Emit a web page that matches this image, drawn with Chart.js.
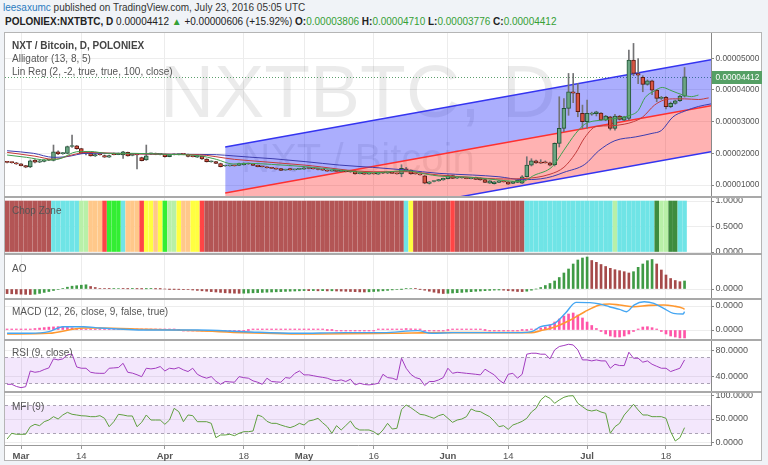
<!DOCTYPE html>
<html>
<head>
<meta charset="utf-8">
<title>NXTBTC daily</title>
<script src="https://cdn.jsdelivr.net/npm/chart.js@4.4.1/dist/chart.umd.min.js"></script>
<style>
  html, body { margin: 0; padding: 0; background: #f0f3f7; }
  body { width: 768px; height: 465px; position: relative; overflow: hidden; font-family: "Liberation Sans", Arial, sans-serif; }
  .hdr { position: absolute; font-size: 10px; line-height: 12px; white-space: nowrap; }
  #hdr1 { left: 3px; top: 2px; color: #333; }
  #hdr2 { left: 5px; top: 16px; color: #222; }
  .user { color: #2b7bbf; }
  .g { color: #35a035; }
  #frame { position: absolute; left: 4px; top: 32px; width: 758px; height: 429px; background: #fff; border: 1px solid #b5b5b5; box-sizing: border-box; }
  canvas { position: absolute; left: 5px; z-index: 1; }
  .sep { position: absolute; left: 4px; width: 758px; height: 2px; background: #a9a9a9; z-index: 2; }
  .lbl { position: absolute; left: 12px; font-size: 10px; line-height: 12px; color: #555; white-space: nowrap; z-index: 2; }
</style>
</head>
<body>
<div class="hdr" id="hdr1"><span class="user">leesaxumc</span> published on TradingView.com, July 23, 2016 05:05 UTC</div>
<div class="hdr" id="hdr2"><b>POLONIEX:NXTBTC, D</b> 0.00004412 <span class="g">&#9650;</span> +0.00000606 (+15.92%) <b>O:</b><span class="g">0.00003806</span> <b>H:</b><span class="g">0.00004710</span> <b>L:</b><span class="g">0.00003776</span> <b>C:</b><span class="g">0.00004412</span></div>
<div id="frame"></div>

<canvas id="cMain" width="757" height="175" style="top:27px"></canvas>
<canvas id="cChop" width="757" height="67" style="top:192px"></canvas>
<canvas id="cAo" width="757" height="55" style="top:249px"></canvas>
<canvas id="cMacd" width="757" height="51" style="top:294px"></canvas>
<canvas id="cRsi" width="757" height="62" style="top:335px"></canvas>
<canvas id="cMfi" width="757" height="74" style="top:387px"></canvas>

<div class="sep" style="top:196px"></div>
<div class="sep" style="top:253px"></div>
<div class="sep" style="top:298px"></div>
<div class="sep" style="top:339px"></div>
<div class="sep" style="top:391px"></div>

<div class="lbl" style="top:40px;color:#444;font-weight:bold">NXT / Bitcoin, D, POLONIEX</div>
<div class="lbl" style="top:53px">Alligator (13, 8, 5)</div>
<div class="lbl" style="top:66px">Lin Reg (2, -2, true, true, 100, close)</div>
<div class="lbl" style="top:205px">Chop Zone</div>
<div class="lbl" style="top:263px">AO</div>
<div class="lbl" style="top:306px">MACD (12, 26, close, 9, false, true)</div>
<div class="lbl" style="top:347px">RSI (9, close)</div>
<div class="lbl" style="top:401px">MFI (9)</div>

<script>
const FONT = '"Liberation Sans", Arial, sans-serif';
const AXIS_W = 51;

// day 0 = Mar 1 2016, first candle Feb 27 (day -3), last candle day 143
const FIRST_DAY = -3;
const X_MIN = -3.45, X_MAX = 148.7;
const tickDays = [0, 13, 31, 48, 61, 76, 92, 105, 122, 139];
const tickLabels = ['Mar', '14', 'Apr', '18', 'May', '16', 'Jun', '14', 'Jul', '18'];

// prices in satoshi (1e-8 BTC)
const priceTicks = [1000, 2000, 3000, 4000, 5000];
const opens = [
  1725, 1715, 1700, 1665, 1610, 1568, 1785, 1720, 1745, 1790,
  1775, 2050, 1990, 2000, 2215, 2240, 2150, 2000, 2000, 1920,
  1960, 1930, 1880, 1990, 1960, 1950, 2030, 1935, 1960, 1862,
  1790, 1985, 2000, 1968, 1968, 1895, 1955, 1960, 1970, 1965,
  1900, 1880, 1910, 1820, 1735, 1740, 1680, 1600, 1605, 1610,
  1620, 1640, 1680, 1660, 1625, 1580, 1575, 1545, 1525, 1520,
  1470, 1515, 1480, 1495, 1500, 1540, 1520, 1505, 1490, 1470,
  1440, 1450, 1430, 1430, 1420, 1440, 1360, 1390, 1345, 1360,
  1340, 1385, 1370, 1372, 1368, 1350, 1510, 1470, 1355, 1330,
  1290, 1050, 1110, 1130, 1160, 1200, 1300, 1215, 1220, 1225,
  1200, 1240, 1220, 1170, 1060, 1040, 1080, 1105, 1100, 1050,
  1085, 1060, 1262, 1630, 1760, 1720, 1730, 1700, 1640, 2315,
  2787, 3418, 3944, 3900, 3260, 2997, 3240, 3250, 3270, 3050,
  3150, 2790, 3180, 3050, 3100, 4944, 4520, 4397, 4176, 4290,
  3997, 3734, 3766, 3470, 3576, 3660, 3806
];
const highs = [
  1745, 1730, 1715, 1680, 1620, 1790, 1800, 1775, 1800, 1810,
  2262, 2080, 2030, 2230, 2577, 2250, 2160, 2060, 2010, 1980,
  1985, 1950, 1945, 2010, 2010, 2060, 2040, 1975, 1980, 1880,
  2262, 2010, 2010, 1990, 1980, 1960, 1985, 1985, 1980, 1975,
  1915, 1935, 1915, 1830, 1760, 1750, 1690, 1625, 1620, 1625,
  1690, 1700, 1695, 1670, 1635, 1595, 1585, 1560, 1535, 1530,
  1500, 1525, 1500, 1530, 1560, 1550, 1530, 1515, 1495, 1480,
  1465, 1460, 1445, 1440, 1430, 1450, 1395, 1400, 1370, 1370,
  1400, 1395, 1385, 1380, 1375, 1640, 1560, 1480, 1365, 1340,
  1300, 1110, 1130, 1180, 1220, 1320, 1310, 1230, 1245, 1235,
  1215, 1250, 1230, 1180, 1140, 1110, 1140, 1120, 1110, 1120,
  1165, 1300, 1893, 1830, 1790, 1800, 1760, 1720, 2330, 3786,
  3730, 4522, 4522, 4206, 3523, 3680, 3300, 3330, 3290, 3200,
  3170, 3230, 3200, 3170, 5259, 5470, 4990, 4450, 4320, 4310,
  4010, 3800, 3800, 3620, 3680, 3830, 4710
];
const lows = [
  1700, 1690, 1650, 1600, 1545, 1550, 1700, 1705, 1730, 1765,
  1760, 1960, 1970, 1990, 2190, 2130, 1990, 1950, 1910, 1900,
  1940, 1870, 1870, 1950, 1955, 1840, 1910, 1920, 1505, 1760,
  1780, 1960, 1955, 1950, 1880, 1890, 1950, 1950, 1955, 1890,
  1885, 1870, 1810, 1725, 1720, 1670, 1570, 1590, 1595, 1595,
  1610, 1625, 1650, 1610, 1570, 1565, 1535, 1515, 1495, 1450,
  1465, 1465, 1475, 1490, 1495, 1510, 1500, 1480, 1460, 1430,
  1435, 1420, 1420, 1410, 1400, 1340, 1350, 1330, 1340, 1340,
  1335, 1360, 1360, 1360, 1340, 1260, 1430, 1340, 1340, 1310,
  1040, 1030, 1100, 1120, 1150, 1190, 1200, 1205, 1215, 1195,
  1190, 1170, 1150, 1070, 1050, 1030, 1070, 1090, 1020, 1040,
  1075, 1050, 1250, 1600, 1680, 1680, 1690, 1600, 1600, 2200,
  2680, 3200, 3600, 3155, 2787, 2787, 3200, 3180, 3040, 3030,
  2735, 2730, 3050, 3030, 3050, 4450, 4200, 3944, 4150, 3850,
  3628, 3700, 3400, 3440, 3550, 3640, 3776
];
const closes = [
  1715, 1705, 1662, 1610, 1560, 1767, 1720, 1760, 1790, 1785,
  2050, 1980, 2000, 2210, 2230, 2150, 2000, 2005, 1920, 1960,
  1955, 1880, 1930, 1960, 2000, 2050, 1920, 1960, 1950, 1767,
  1925, 2000, 1968, 1970, 1893, 1950, 1968, 1975, 1968, 1900,
  1898, 1920, 1820, 1735, 1745, 1680, 1577, 1609, 1610, 1605,
  1680, 1690, 1662, 1620, 1580, 1577, 1545, 1524, 1503, 1460,
  1490, 1475, 1490, 1520, 1545, 1520, 1510, 1490, 1470, 1440,
  1450, 1430, 1432, 1420, 1410, 1350, 1380, 1340, 1360, 1350,
  1390, 1370, 1372, 1368, 1350, 1530, 1440, 1350, 1350, 1320,
  1060, 1100, 1120, 1170, 1210, 1300, 1210, 1220, 1230, 1200,
  1205, 1180, 1160, 1080, 1130, 1100, 1130, 1100, 1030, 1110,
  1157, 1262, 1630, 1760, 1700, 1690, 1700, 1630, 2314, 2787,
  3418, 3944, 3900, 3313, 2997, 3260, 3270, 3313, 3050, 3180,
  2790, 3180, 3070, 3150, 4944, 4520, 4470, 4176, 4290, 3997,
  3734, 3760, 3470, 3576, 3660, 3806, 4412
];

// Alligator lines (read at sparse points, x = day)
const jawDays = [-3, 2.7, 7, 9.8, 14.1, 20.6, 27.7, 34.9, 42.1, 45.7, 49.3, 54.3, 61.4, 68.6, 75.8, 83, 90.1, 97.3, 103, 108, 112, 114.5, 117, 121.5, 124.5, 128, 132.5, 136, 138, 140.5, 143, 146, 148.7];
const jawVals = [2082, 2000, 1873, 1894, 2000, 2000, 1978, 1968, 1957, 1920, 1880, 1830, 1736, 1630, 1557, 1472, 1367, 1315, 1260, 1170, 1195, 1270, 1400, 1650, 2080, 2400, 2520, 2630, 2720, 3150, 3330, 3480, 3560];
const teethDays = [-3, 3, 7, 11, 14, 17, 24, 38, 46, 50, 61, 76, 83, 90, 97, 104, 108, 114, 117, 119.5, 121.5, 124, 127, 130, 132, 134, 136.5, 138.5, 141, 143, 146, 148.2];
const teethVals = [2030, 1910, 1810, 1950, 2030, 2020, 1980, 1957, 1810, 1760, 1630, 1420, 1420, 1315, 1241, 1190, 1200, 1340, 1560, 2000, 2500, 2850, 2870, 2920, 3000, 3150, 3520, 3680, 3720, 3720, 3700, 3750];
const lipsDays = [-3, 1.2, 5.5, 8.4, 12, 14.9, 18.6, 24.2, 31.3, 38.4, 42.1, 45.7, 49.3, 54, 61.4, 68.6, 75.8, 83, 87.2, 90.1, 97.3, 104.4, 108, 110.5, 114.5, 117, 119.5, 121.5, 125, 128.5, 131, 133, 134.5, 136.5, 138.2, 140.3, 142.5, 144.5, 146];
const lipsVals = [1947, 1873, 1789, 1830, 2050, 2060, 2000, 2000, 1968, 1925, 1810, 1663, 1684, 1650, 1577, 1472, 1388, 1451, 1346, 1283, 1241, 1136, 1110, 1300, 1580, 2100, 2620, 2920, 3050, 3110, 3190, 3350, 3760, 3970, 4080, 3970, 3850, 3790, 3840];

// Linear regression channel (start of the 100 bars -> right edge)
const linRegDays = [44, 148.7];
const linRegUpper = [2200, 4954];
const linRegMid = [749, 3503];
const linRegLower = [-704, 2050];

// Chop Zone colour code per day
const chopZone =
  'DDDDDDDDDDCCCCCCLLOOORGGGCOOORYYOYGLLYOOYYR' +
  'DDDDDDDDDD' + 'DDDDDDDDDD' + 'DDDDDDDDDD' + 'DDDDDDDDDD' + 'DDD' +
  'CY' + 'DDDDDDDD' + 'R' + 'DDDDDDDDDD' + 'DDDDD' +
  'CCCCCCCCCC' + 'CCCCCCCCC' + 'L' + 'CCCCCCCC' + 'K' + 'LL' + 'KK' + 'CC';
const chopColors = { D: '#b35555', C: '#6fe4e6', L: '#b8f0a8', O: '#ffc88a', R: '#ff4545', G: '#33ee33', Y: '#ffff40', K: '#3e8c3e' };

// Awesome Oscillator (satoshi)
const aoValues = [
  -230, -240, -250, -260, -268, -275, -260, -220, -170, -125,
  -75, -25, 30, 90, 140, 165, 190, 210, 125, 75,
  30, 20, 15, 20, 25, 15, 10, 15, 10, 5,
  10, 15, 5, 2, 0, -2, -4, -8, -15, -30,
  -50, -70, -90, -110, -130, -150, -170, -190, -200, -210,
  -215, -210, -200, -190, -180, -170, -160, -150, -140, -130,
  -120, -110, -100, -90, -80, -85, -80, -90, -85, -95,
  -90, -100, -105, -115, -125, -135, -145, -150, -140, -125,
  -110, -90, -70, -45, -25, -5, 20, 25, 15, -10,
  -60, -110, -160, -200, -225, -215, -200, -185, -170, -150,
  -135, -115, -100, -85, -70, -55, -50, -60, -80, -100,
  -125, -130, -110, -60, 0, 75, 175, 275, 400, 575,
  800, 1000, 1250, 1450, 1550, 1600, 1425, 1335, 1225, 1125,
  1035, 965, 915, 865, 800, 865, 1085, 1250, 1415, 1475,
  1250, 950, 700, 525, 425, 365, 400
];

// MACD (satoshi)
const macdHist = [
  10, 8, 5, 5, 10, 20, 30, 40, 50, 60,
  65, 70, 65, 55, 45, 35, 25, 15, 5, 5,
  4, 3, 2, 3, 4, 5, 4, 3, 2, 3,
  4, 5, 5, 4, 3, 2, 1, 0, -2, -3,
  -4, -5, -6, -8, -10, -12, -12, -10, -8, -6,
  -4, -2, 0, 2, 3, 4, 5, 5, 5, 5,
  5, 4, 4, 3, 3, 2, 2, 1, 1, 0,
  0, -1, -1, -2, -2, -3, -3, -2, -2, -1,
  2, 4, 5, 6, 8, 20, 30, 25, 15, 5,
  -10, -15, -12, -8, -5, 0, 3, 4, 5, 4,
  3, 2, 1, 0, -2, -4, -5, -5, -6, -6,
  -4, 0, 0, 10, 21, 42, 62, 104, 166, 229,
  291, 333, 354, 312, 250, 166, 94, 31, -31, -83,
  -125, -146, -146, -125, -83, -31, 21, 62, 69, 48,
  21, -31, -83, -125, -146, -166, -166
];
const macdDays = [-3, 2, 6, 9, 13.5, 17, 27, 38, 48, 59, 70, 78, 85.5, 88.5, 93, 107, 110, 112, 115, 117.3, 119.6, 122.6, 124.7, 126.8, 129, 130.5, 132.1, 134.3, 136.4, 138.5, 140.6, 142.7, 143];
const macdVals = [-69, -69, -35, 69, 69, 42, 0, 0, -35, -69, -55, -55, -14, -69, -55, -55, -35, 69, 139, 347, 576, 570, 541, 485, 430, 381, 520, 589, 555, 451, 347, 333, 381];
const signalDays = [-3, 6, 13.5, 17, 27, 38, 48, 63, 80, 91, 107, 110, 112, 115.2, 118.4, 121.5, 124.7, 126.8, 129, 132.1, 135.3, 138.5, 140.6, 142.7, 143];
const signalVals = [-83, -69, 42, 42, 14, -14, -55, -83, -69, -55, -55, -55, -14, 69, 208, 381, 520, 541, 520, 485, 513, 520, 499, 451, 430];

const rsiValues = [
  28.3, 28.3, 25, 23.1, 24.6, 48.8, 46.8, 47.9, 51, 53.5,
  67.4, 65.8, 67.4, 73.5, 75, 55, 53, 53, 46.8, 45.5,
  45.2, 45.2, 53, 53.5, 54.1, 60.6, 46.8, 45.5, 43, 40,
  53, 52, 53, 55.6, 48.8, 53, 52, 54.1, 50.5, 47.9,
  53, 43.7, 40, 37.7, 40.1, 33, 28.3, 32.6, 32, 31.5,
  40.1, 38.5, 37.7, 33.6, 31.5, 28.3, 37.7, 32.6, 32, 31.5,
  38.6, 37.7, 45, 48.8, 42.8, 42.8, 41.5, 40.1, 39, 37.7,
  35, 33.6, 35.1, 32.6, 36.1, 27.4, 29.9, 28, 27.4, 28.3,
  29.9, 43.7, 38.6, 37.7, 35.1, 68.4, 53, 43.7, 38.6, 36.6,
  26.4, 32.6, 32.6, 35, 38.6, 53, 45.2, 46.8, 46, 45.2,
  44.5, 43.7, 42.8, 51.5, 47, 42.8, 35, 29.9, 43.7, 45.2,
  37.7, 43.7, 74.6, 76.1, 76.1, 74.6, 74.6, 67.4, 81.2, 86.4,
  88, 89.9, 88.8, 81.2, 65.8, 65.8, 64.3, 65.8, 64.3, 64.3,
  53, 59.1, 57.1, 57.1, 77.6, 68.4, 68.4, 62.3, 64.3, 59.1,
  56, 53, 53, 47.9, 50.5, 53, 65.8
];
const rsiBands = [30, 70];

const mfiValues = [
  7.1, 19.3, 17.2, 17.2, 17.2, 33.5, 38.6, 35.7, 44.2, 47.8,
  55, 50, 58.6, 64.3, 60.1, 58.6, 57, 56.5, 55, 55,
  57.2, 51.5, 33.5, 44.2, 60, 58.6, 56.5, 56.5, 33.5, 42.8,
  58.6, 47.8, 47.8, 47.8, 38.6, 47.8, 72.9, 65.8, 44.2, 58.6,
  57.2, 44.2, 44.2, 44.2, 40.7, 9.9, 15.7, 15.7, 17.2, 14.2,
  19.3, 22.8, 22.8, 24.2, 58.6, 55, 45, 40.7, 40.7, 37.1,
  34, 31.4, 35, 40.7, 37.1, 45.7, 47.8, 51.5, 42, 33.5,
  19.3, 35.7, 26.4, 36, 45.7, 31.4, 26.4, 26.4, 26.4, 22.8,
  15.7, 26.4, 40.7, 28.5, 30, 70, 80.1, 74.4, 67.2, 60,
  58.6, 55, 51.5, 57.2, 60.1, 51.5, 42.8, 47.8, 50, 55,
  71.5, 67, 65.8, 60.1, 55, 45, 33.5, 35.7, 27.8, 37.1,
  40.7, 45, 51.5, 65, 72.9, 90.8, 99.4, 94.4, 83.7, 90.8,
  96.6, 99.4, 100, 83.7, 76.5, 69.4, 67.2, 69.4, 65, 62.2,
  19.3, 33.5, 40.7, 58.6, 70, 81.6, 69.4, 58.6, 58.6, 55,
  55, 55, 51.5, 22.8, 2.8, 9.9, 31.4
];
const mfiBands = [20, 80];

const days = closes.map((_, i) => FIRST_DAY + i);
const pts = (xs, ys) => xs.map((x, i) => ({ x, y: ys[i] }));
const perDay = vals => days.map((d, i) => ({ x: d, y: vals[i] }));

function xAxis(showLabels) {
  return {
    type: 'linear', min: X_MIN, max: X_MAX, offset: false,
    afterBuildTicks: s => { s.ticks = tickDays.map(v => ({ value: v })); },
    afterFit: s => { s.height = showLabels ? 16 : 0; s.paddingLeft = 0; s.paddingRight = 0; },
    grid: { color: '#ececec', offset: false, drawTicks: showLabels, tickLength: 4, tickColor: '#999' },
    border: { display: showLabels, color: '#999' },
    ticks: {
      display: showLabels, autoSkip: false, maxRotation: 0, padding: 2, color: '#555',
      font: ctx => ({ family: FONT, size: 9.5, weight: /^[A-Z]/.test(tickLabels[ctx.index] || '') ? 'bold' : 'normal' }),
      callback: (v, i) => tickLabels[i]
    }
  };
}

function yAxis(min, max, ticks, fmt, size) {
  return {
    position: 'right', min, max,
    afterBuildTicks: s => { s.ticks = ticks.map(v => ({ value: v })); },
    afterFit: s => { s.width = AXIS_W; s.paddingTop = 0; s.paddingBottom = 0; },
    grid: { color: '#ededed', tickLength: 3, tickColor: '#888' },
    border: { display: true, color: '#888' },
    ticks: { color: '#555', padding: 1.5, autoSkip: false, font: { family: FONT, size: size || 9 }, callback: fmt }
  };
}

function options(y, showX) {
  return {
    responsive: false, animation: false, events: [],
    layout: { padding: { top: 6, bottom: showX ? 0 : 6, left: 0, right: 0 }, autoPadding: false },
    plugins: { legend: { display: false }, tooltip: { enabled: false } },
    scales: { x: xAxis(showX), y }
  };
}

const bandPlugin = {
  id: 'bands',
  beforeDatasetsDraw(chart, args, opts) {
    if (!opts || !opts.levels) return;
    const { ctx, chartArea: a, scales: { y } } = chart;
    const top = Math.round(y.getPixelForValue(opts.levels[1])) + 0.5;
    const bot = Math.round(y.getPixelForValue(opts.levels[0])) + 0.5;
    ctx.save();
    ctx.fillStyle = 'rgba(150, 40, 230, 0.11)';
    ctx.fillRect(a.left, top, a.right - a.left, bot - top);
    ctx.strokeStyle = '#aaa2b4';
    ctx.lineWidth = 1;
    ctx.setLineDash([3, 3]);
    [top, bot].forEach(py => {
      ctx.beginPath(); ctx.moveTo(a.left, py); ctx.lineTo(a.right, py); ctx.stroke();
    });
    ctx.restore();
  }
};

const watermark = {
  id: 'watermark',
  beforeDatasetsDraw(chart) {
    const { ctx, chartArea: a, scales: { y } } = chart;
    const cx = (a.left + a.right) / 2;
    const last = closes[closes.length - 1];
    const py = Math.round(y.getPixelForValue(last)) + 0.5;
    ctx.save();
    ctx.fillStyle = 'rgba(0, 0, 0, 0.08)';
    ctx.textAlign = 'center';
    ctx.font = '75px ' + FONT;
    ctx.fillText('NXTBTC, D', cx, a.top + 84);
    ctx.font = '40px ' + FONT;
    ctx.fillText('NXT / Bitcoin', cx, a.top + 139);
    // last price dotted line
    ctx.strokeStyle = '#5c9f6c';
    ctx.lineWidth = 1;
    ctx.setLineDash([1, 2]);
    ctx.beginPath(); ctx.moveTo(a.left, py); ctx.lineTo(a.right, py); ctx.stroke();
    ctx.restore();
  },
  afterDraw(chart) {
    const { ctx, chartArea: a, scales: { y } } = chart;
    const last = closes[closes.length - 1];
    const py = Math.round(y.getPixelForValue(last));
    ctx.save();
    ctx.fillStyle = '#55a065';
    ctx.fillRect(a.right + 1, py - 6, AXIS_W - 1, 13);
    ctx.fillStyle = '#fff';
    ctx.font = '8.3px ' + FONT;
    ctx.textBaseline = 'middle';
    ctx.fillText((last / 1e8).toFixed(8), a.right + 4.5, py + 0.5);
    ctx.restore();
  }
};

const UP = '#6ba583', UP_B = '#225437', DN = '#d75442', DN_B = '#5b1a13';
const isUp = closes.map((c, i) => c >= opens[i]);
const lineDs = (data, color, order, extra) => Object.assign({
  type: 'line', data, borderColor: color, borderWidth: 1, pointRadius: 0, fill: false, order
}, extra || {});

new Chart(document.getElementById('cMain'), {
  type: 'line',
  data: {
    datasets: [
      lineDs(pts(linRegDays, linRegUpper), '#3434f0', 12, { borderWidth: 1.5, fill: '+1', backgroundColor: 'rgba(0, 8, 250, 0.33)' }),
      lineDs(pts(linRegDays, linRegMid), '#ff3030', 11, { borderWidth: 1.5, fill: '+1', backgroundColor: 'rgba(255, 0, 0, 0.30)' }),
      lineDs(pts(linRegDays, linRegLower), '#3434f0', 10, { borderWidth: 1.5 }),
      {
        type: 'bar', data: days.map((d, i) => ({ x: d, y: [lows[i], highs[i]] })),
        backgroundColor: '#737375', barThickness: 1, grouped: false, order: 6
      },
      {
        type: 'bar', data: days.map((d, i) => ({ x: d, y: [opens[i], closes[i]] })),
        backgroundColor: isUp.map(u => u ? UP : DN), borderColor: isUp.map(u => u ? UP_B : DN_B),
        borderWidth: 1, borderSkipped: false, barThickness: 4, minBarLength: 1, grouped: false, order: 5
      },
      lineDs(pts(jawDays, jawVals), '#3c3cae', 3, { cubicInterpolationMode: 'monotone' }),
      lineDs(pts(teethDays, teethVals), '#c23a3a', 2, { cubicInterpolationMode: 'monotone' }),
      lineDs(pts(lipsDays, lipsVals), '#3f9f4f', 1, { cubicInterpolationMode: 'monotone' })
    ]
  },
  options: options(yAxis(653, 5799, priceTicks, v => (v / 1e8).toFixed(8), 8.3), false),
  plugins: [watermark]
});

new Chart(document.getElementById('cChop'), {
  type: 'bar',
  data: {
    datasets: [{
      data: days.map(d => ({ x: d, y: [0, 1] })),
      backgroundColor: days.map((d, i) => chopColors[chopZone[i]]),
      barThickness: 3.9, grouped: false
    }]
  },
  options: options(yAxis(-0.0196, 1.059, [0, 0.5, 1], v => v.toFixed(4)), false)
});

new Chart(document.getElementById('cAo'), {
  type: 'bar',
  data: {
    datasets: [{
      data: perDay(aoValues),
      backgroundColor: aoValues.map((v, i) => (i > 0 && v >= aoValues[i - 1]) ? '#3f9a45' : '#a54a4a'),
      barThickness: 2, grouped: false
    }]
  },
  options: options(yAxis(-450, 1700, [0], v => (v / 1e8).toFixed(4)), false)
});

new Chart(document.getElementById('cMacd'), {
  type: 'bar',
  data: {
    datasets: [
      { type: 'bar', data: perDay(macdHist), backgroundColor: '#ff55a8', barThickness: 2, minBarLength: 1, grouped: false, order: 3 },
      lineDs(pts(signalDays, signalVals), '#ff9830', 2, { borderWidth: 1.6, cubicInterpolationMode: 'monotone' }),
      lineDs(pts(macdDays, macdVals), '#45a6f2', 1, { borderWidth: 1.4, cubicInterpolationMode: 'monotone' })
    ]
  },
  options: options(yAxis(-187.5, 625, [0, 500], v => (v / 1e8).toFixed(4)), false)
});

const rsiOpts = options(yAxis(18, 94.9, [40, 80], v => v.toFixed(4)), false);
rsiOpts.plugins.bands = { levels: rsiBands };
new Chart(document.getElementById('cRsi'), {
  type: 'line',
  data: { datasets: [lineDs(perDay(rsiValues), '#a23cbf', 1)] },
  options: rsiOpts,
  plugins: [bandPlugin]
});

const mfiOpts = options(yAxis(-5.8, 105.8, [0, 50, 100], v => v.toFixed(4)), true);
mfiOpts.plugins.bands = { levels: mfiBands };
new Chart(document.getElementById('cMfi'), {
  type: 'line',
  data: { datasets: [lineDs(perDay(mfiValues), '#5f9f3f', 1)] },
  options: mfiOpts,
  plugins: [bandPlugin]
});
</script>
</body>
</html>
